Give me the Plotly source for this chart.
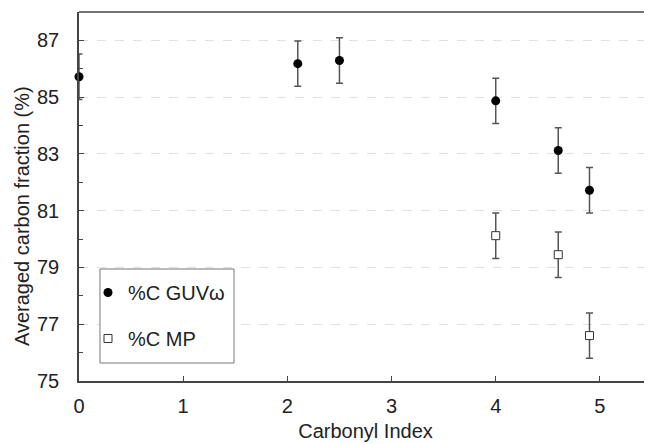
import plotly.graph_objects as go

guv_x = [0, 2.1, 2.5, 4.0, 4.6, 4.9]
guv_y = [85.72, 86.18, 86.29, 84.87, 83.12, 81.72]
guv_err = [0.8, 0.8, 0.8, 0.8, 0.8, 0.8]

mp_x = [4.0, 4.6, 4.9]
mp_y = [80.12, 79.45, 76.6]
mp_err = [0.8, 0.8, 0.8]

y_labels = [75, 77, 79, 81, 83, 85, 87]
x_labels = [0, 1, 2, 3, 4, 5]

FONT = "Liberation Sans, Arial, sans-serif"
AX = "#444444"
FS = 20

fig = go.Figure()
fig.add_trace(go.Scatter(
    x=guv_x, y=guv_y, mode="markers", name="%C GUVω",
    legendgroup="a",
    marker=dict(symbol="circle", size=9, color="black"),
    error_y=dict(type="data", array=guv_err, color="#555555", thickness=1.5, width=3.5),
    cliponaxis=False,
))
fig.add_trace(go.Scatter(
    x=mp_x, y=mp_y, mode="markers", name="%C MP",
    legendgroup="b",
    marker=dict(symbol="square", size=8, color="white", line=dict(color="#333333", width=1)),
    error_y=dict(type="data", array=mp_err, color="#555555", thickness=1.5, width=3.5),
))

# page body adds an 8px offset; figure is shifted to compensate
fig.update_layout(
    width=644, height=436,
    margin=dict(l=71, r=0, t=4, b=63, autoexpand=False),
    paper_bgcolor="white", plot_bgcolor="white",
    font=dict(family=FONT, size=FS, color="#222222"),
    showlegend=True,
    legend=dict(
        x=0.0157, y=0.2927, xanchor="left", yanchor="top",
        borderwidth=0, bgcolor="rgba(0,0,0,0)",
        tracegroupgap=17, traceorder="grouped",
        font=dict(size=FS),
        itemwidth=30,
    ),
    xaxis=dict(
        range=[0, 5.5], tickvals=x_labels, ticks="inside", ticklen=5, tickcolor=AX,
        showline=True, linecolor=AX, linewidth=1.5, mirror=False, showgrid=False,
        zeroline=False, automargin=False, ticklabelstandoff=6,
        title=dict(text="Carbonyl Index", font=dict(size=FS), standoff=8),
    ),
    yaxis=dict(
        range=[75, 88], tickvals=y_labels, ticks="inside", ticklen=5, tickcolor=AX,
        showline=True, linecolor=AX, linewidth=1.5, showgrid=True,
        gridcolor="#e0e0e0", griddash="dash", gridwidth=1, zeroline=False,
        automargin=False, ticklabelstandoff=14,
        minor=dict(dtick=1, ticks="inside", ticklen=4, tickcolor=AX, showgrid=False),
    ),
    annotations=[dict(
        text="Averaged carbon fraction (%)", textangle=-90,
        xref="paper", yref="paper", x=-0.0995, y=0.447,
        xanchor="center", yanchor="middle", showarrow=False,
        font=dict(size=FS),
    )],
)
# top border
fig.add_shape(type="line", xref="paper", yref="paper", x0=0, x1=1, y0=1, y1=1,
              line=dict(color=AX, width=1.5))
# legend frame
fig.add_shape(type="rect", xref="paper", yref="paper", x0=0.0366, x1=0.2705,
              y0=0.0488, y1=0.3035, line=dict(color="#777777", width=1),
              fillcolor="white", layer="above")

fig.write_html("out.html")
